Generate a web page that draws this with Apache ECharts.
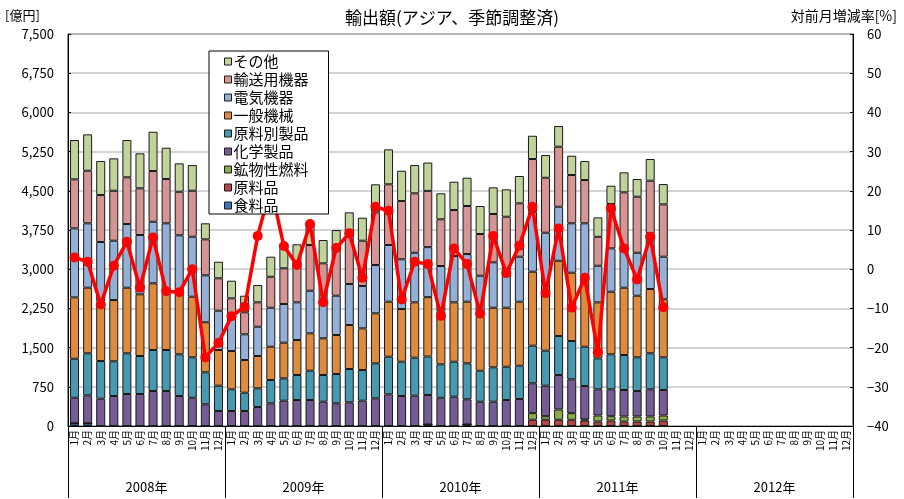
<!DOCTYPE html>
<html><head><meta charset="utf-8">
<script src="https://cdn.jsdelivr.net/npm/echarts@6/dist/echarts.min.js"></script>
<style>html,body{margin:0;padding:0;background:#fff}#c{width:904px;height:499px}</style>
</head><body><div id="c"></div>
<script>
const years = ["2008年","2009年","2010年","2011年","2012年"];
const months = [];
for (let y = 0; y < 5; y++) for (let m = 1; m <= 12; m++) months.push(m + "月");

const food   = [52,52,0,0,0,0,0,0,0,0,0,0, 0,0,0,0,0,0,0,0,0,0,0,0, 0,0,0,30,0,0,30,0,0,0,0,0, 0,0,0,0,0,0,0,0,0,0];
const rawMat = [0,0,0,0,0,0,0,0,0,0,0,0, 0,0,0,0,0,0,0,0,0,0,0,0, 0,0,0,0,0,0,0,0,0,0,0,120, 119,119,119,105,86,105,86,86,86,105];
const fuel   = [0,0,0,0,0,0,0,0,0,0,0,0, 0,0,0,0,0,0,0,0,0,0,0,0, 0,0,0,0,0,0,0,0,0,0,0,126, 69,197,126,20,115,82,96,96,96,96];
const chem   = [489,535,522,574,612,612,670,670,574,541,415,287, 287,287,363,434,484,497,497,465,434,453,484,530, 606,574,580,563,541,561,481,465,465,497,517,571, 583,660,648,640,500,515,507,488,520,488];
const manuf  = [746,804,721,664,779,727,784,784,798,773,612,484, 415,350,358,446,428,479,561,511,561,637,587,669, 720,656,727,736,639,669,688,593,658,637,637,719, 670,746,733,752,593,670,669,644,689,625];
const genMach= [1174,1255,1135,1172,1255,1180,1276,1096,1167,1160,957,683, 733,626,618,637,682,669,715,702,746,842,798,957, 1052,1008,1059,1136,1007,1136,1179,1033,1140,1129,1224,1416, 1275,1440,1307,1372,1071,1197,1288,1179,1230,1110];
const elec   = [1320,1232,1142,1135,1218,1135,1178,1328,1109,1147,899,752, 656,491,561,746,740,721,815,732,752,784,809,924, 1085,951,949,957,874,886,912,784,869,721,861,1148, 982,1033,945,989,701,830,734,822,1065,815];
const trans  = [938,1006,899,956,894,893,970,847,834,880,688,620, 352,421,466,593,683,714,875,702,906,1001,867,1008, 1161,1115,1137,1077,893,880,919,798,924,1020,1021,1008, 1052,1148,924,828,554,848,1091,1072,1007,1002];
const other  = [752,696,650,620,713,670,752,599,543,492,307,317, 337,318,331,383,459,396,415,446,350,371,440,536, 669,580,541,541,498,542,541,536,510,524,523,445, 434,396,369,363,371,350,382,338,415,388];
const growth = [3.0,1.9,-9.0,0.9,7.0,-4.7,8.1,-5.6,-5.9,0.0,-22.5,-18.8,
  -12.0,-9.6,8.5,21.0,5.9,1.1,11.5,-8.4,5.4,9.2,-2.2,15.9,
  14.9,-7.7,1.9,1.3,-11.9,5.3,1.3,-11.3,8.5,-1.0,6.0,15.9,
  -6.1,10.4,-9.8,-2.2,-21.2,15.5,5.3,-2.6,8.3,-9.7];

const seriesDefs = [
  ["食料品", food, "#3f74b6"],
  ["原料品", rawMat, "#b54543"],
  ["鉱物性燃料", fuel, "#8cad4b"],
  ["化学製品", chem, "#765c95"],
  ["原料別製品", manuf, "#4699b0"],
  ["一般機械", genMach, "#de8a3f"],
  ["電気機器", elec, "#95b0d6"],
  ["輸送用機器", trans, "#d49594"],
  ["その他", other, "#bfd39a"]
];
const FONT = "Noto Sans CJK JP";
const chart = echarts.init(document.getElementById('c'));
const series = seriesDefs.map(([name, data, color]) => ({
  name, type: 'bar', stack: 'total', data, barWidth: 9,
  itemStyle: { color, borderColor: '#1a1a1a', borderWidth: 1 },
  emphasis: { disabled: true }, z: 2
}));
series.push({
  name: '対前月増減率', type: 'line', yAxisIndex: 1, data: growth,
  symbol: 'circle', symbolSize: 10, z: 3,
  lineStyle: { color: '#ff0000', width: 3.5 },
  itemStyle: { color: '#ff0000' }, emphasis: { disabled: true }
});
chart.setOption({
  animation: false,
  textStyle: { fontFamily: FONT },
  title: [
    { text: '輸出額(アジア、季節調整済)', left: 'center', top: 4, textStyle: { fontSize: 17, fontWeight: 'normal', color: '#000', fontFamily: FONT } },
    { text: '[億円]', left: 0, top: 4, textStyle: { fontSize: 13, fontWeight: 'normal', color: '#000', fontFamily: FONT } },
    { text: '対前月増減率[%]', right: 2, top: 4, textStyle: { fontSize: 14, fontWeight: 'normal', color: '#000', fontFamily: FONT } }
  ],
  legend: {
    data: ["その他","輸送用機器","電気機器","一般機械","原料別製品","化学製品","鉱物性燃料","原料品","食料品"],
    orient: 'vertical', left: 209, top: 51,
    backgroundColor: '#fff', borderColor: '#000', borderWidth: 1,
    padding: [3, 20, 1, 15], itemGap: 3, itemWidth: 7, itemHeight: 7,
    icon: 'rect', itemStyle: { borderColor: '#1a1a1a', borderWidth: 1 },
    textStyle: { fontSize: 15, color: '#000', lineHeight: 15, padding: [0,0,0,-3] },
    selectedMode: false, zlevel: 1, z: 10
  },
  grid: { left: 68, right: 51, top: 34, bottom: 73, show: true, borderColor: '#222', borderWidth: 1 },
  xAxis: [
    { type: 'category', data: months, position: 'bottom',
      axisLine: { onZero: false, lineStyle: { color: '#000', width: 1 } },
      axisTick: { show: false },
      axisLabel: { rotate: 90, interval: 0, fontSize: 10, margin: 4, color: '#000' } },
    { type: 'category', data: years, position: 'bottom',
      axisLine: { show: false, onZero: false },
      axisTick: { show: true, length: 72, lineStyle: { color: '#000', width: 1 } },
      axisLabel: { interval: 0, fontSize: 13, margin: 55, color: '#000' } }
  ],
  yAxis: [
    { type: 'value', min: 0, max: 7500, interval: 750,
      axisLine: { show: true, lineStyle: { color: '#000' } },
      axisTick: { show: true, inside: true, length: 3, lineStyle: { color: '#000' } },
      axisLabel: { fontSize: 13, color: '#000', margin: 14, formatter: v => v.toLocaleString('en-US') },
      splitLine: { lineStyle: { color: '#c4c4c4', width: 1.5 } } },
    { type: 'value', min: -40, max: 60, interval: 10, position: 'right',
      axisLine: { show: true, lineStyle: { color: '#000' } },
      axisTick: { show: true, inside: true, length: 3, lineStyle: { color: '#000' } },
      axisLabel: { fontSize: 13, color: '#000', margin: 14, formatter: v => v < 0 ? '−' + (-v) : String(v) },
      splitLine: { show: false } }
  ],
  series
});
</script></body></html>
